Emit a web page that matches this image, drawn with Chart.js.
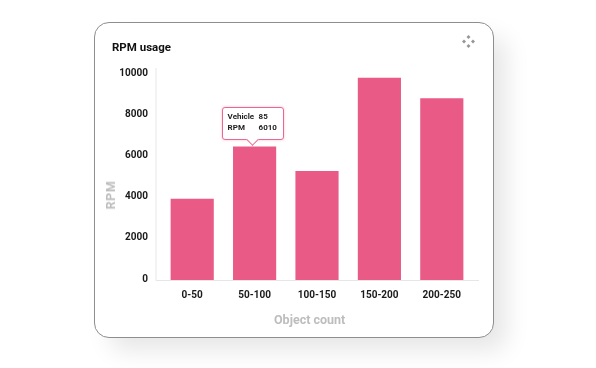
<!DOCTYPE html>
<html>
<head>
<meta charset="utf-8">
<script src="https://cdn.jsdelivr.net/npm/chart.js@4"></script>
<style>
  html, body { margin: 0; width: 596px; height: 368px; background: #fff; overflow: hidden; }
  body { position: relative; font-family: Roboto, sans-serif; }
  #card {
    position: absolute; left: 94px; top: 22px; width: 398px; height: 314px;
    border: 1px solid #8e8e8e; border-radius: 15px; background: #fff;
    box-shadow: 14px 14px 24px -2px rgba(0,0,0,0.10);
  }
  #heading { position: absolute; left: 112px; top: 40px; font-size: 11.5px; font-weight: 700; color: #111; }
  #icon { position: absolute; left: 462px; top: 35px; }
  #chart { position: absolute; left: 0; top: 0; }
  .axis-title { position: absolute; font-size: 12.5px; font-weight: 700; color: #bdbdbd; white-space: nowrap; line-height: 14px; }
  #x-title { left: 274px; top: 313px; }
  #y-title { left: 111px; top: 195px; letter-spacing: .6px; transform: translate(-50%, -50%) rotate(-90deg); }
  #tip {
    position: absolute; box-sizing: border-box; width: 62px; height: 33px; padding: 3px 0 0 5px;
    background: #fff; border: 1px solid #e9688f; border-radius: 3px;
    font-size: 8px; font-weight: 700; line-height: 11.5px; color: #222;
    box-shadow: 0 0 3px rgba(233,104,143,.4); display: none;
  }
  #tip:after {
    content: ""; position: absolute; left: 25px; bottom: -5px; width: 8px; height: 8px;
    background: #fff; border: solid #e9688f; border-width: 0 1px 1px 0; transform: rotate(45deg);
  }
  #tip div span { display: inline-block; width: 31px; }
</style>
</head>
<body>
<div id="card"></div>
<canvas id="chart" width="596" height="368"></canvas>
<div id="heading">RPM usage</div>
<div id="x-title" class="axis-title">Object count</div>
<div id="y-title" class="axis-title">RPM</div>
<svg id="icon" width="13" height="13" viewBox="0 0 13 13" fill="#969696">
  <path d="M6.5 0l2 2-2 2-2-2zM6.5 9l2 2-2 2-2-2zM2 4.5l2 2-2 2-2-2zM11 4.5l2 2-2 2-2-2z"/>
</svg>
<div id="tip"></div>
<script>
const categories = ['0-50', '50-100', '100-150', '150-200', '200-250'];
const rpmValues = [3950, 6500, 5300, 9850, 8850];
const yTicks = [0, 2000, 4000, 6000, 8000, 10000];
const tipLabels = ['Vehicle', 'RPM'];
const tipValues = [85, 6010];
const tipIndex = 1;

// axis lines run a bit past the plot area on both ends
const axisLines = {
    id: 'axisLines',
    beforeDatasetsDraw(chart) {
        const a = chart.chartArea;
        const ctx = chart.ctx;
        ctx.save();
        ctx.strokeStyle = '#e6e6e6';
        ctx.lineWidth = 1;
        ctx.beginPath();
        ctx.moveTo(a.left - 5, a.top);
        ctx.lineTo(a.left - 5, a.bottom + 0.5);
        ctx.lineTo(a.right + 6, a.bottom + 0.5);
        ctx.stroke();
        ctx.restore();
    }
};

function showTip(context) {
    const tip = document.getElementById('tip');
    const t = context.tooltip;
    if (!t.opacity) {
        tip.style.display = 'none';
        return;
    }
    tip.innerHTML = tipLabels.map(function(l, i) {
        return '<div><span>' + l + '</span>' + tipValues[i] + '</div>';
    }).join('');
    tip.style.display = 'block';
    tip.style.left = (t.caretX - 33) + 'px';
    tip.style.top = (t.caretY - 40) + 'px';
}

const chart = new Chart(document.getElementById('chart'), {
    type: 'bar',
    data: {
        labels: categories,
        datasets: [{
            label: 'RPM',
            data: rpmValues,
            backgroundColor: '#e95a87',
            hoverBackgroundColor: '#e95a87',
            barThickness: 42.5
        }]
    },
    plugins: [axisLines],
    options: {
        responsive: false,
        animation: false,
        layout: { padding: { left: 104, top: 68, right: 123, bottom: 58 } },
        plugins: {
            legend: { display: false },
            tooltip: { enabled: false, animation: false, external: showTip }
        },
        scales: {
            x: {
                grid: { display: false, drawTicks: false },
                border: { display: false },
                afterFit(scale) { scale.height = 30; },
                ticks: { color: '#1a1a1a', padding: 9, maxRotation: 0, font: { family: 'Roboto', size: 10, weight: '700' } }
            },
            y: {
                min: 0,
                max: 10340,
                grid: { display: false, drawTicks: false },
                border: { display: false },
                afterBuildTicks(scale) {
                    scale.ticks = yTicks.map(function(v) { return { value: v }; });
                },
                afterFit(scale) { scale.width = 57; },
                ticks: {
                    color: '#1a1a1a',
                    padding: 13,
                    labelOffset: -1,
                    font: { family: 'Roboto', size: 10, weight: '700' },
                    callback: function(v) { return String(v); }
                }
            }
        }
    }
});

chart.tooltip.setActiveElements([{ datasetIndex: 0, index: tipIndex }], { x: 0, y: 0 });
chart.draw();
</script>
</body>
</html>
